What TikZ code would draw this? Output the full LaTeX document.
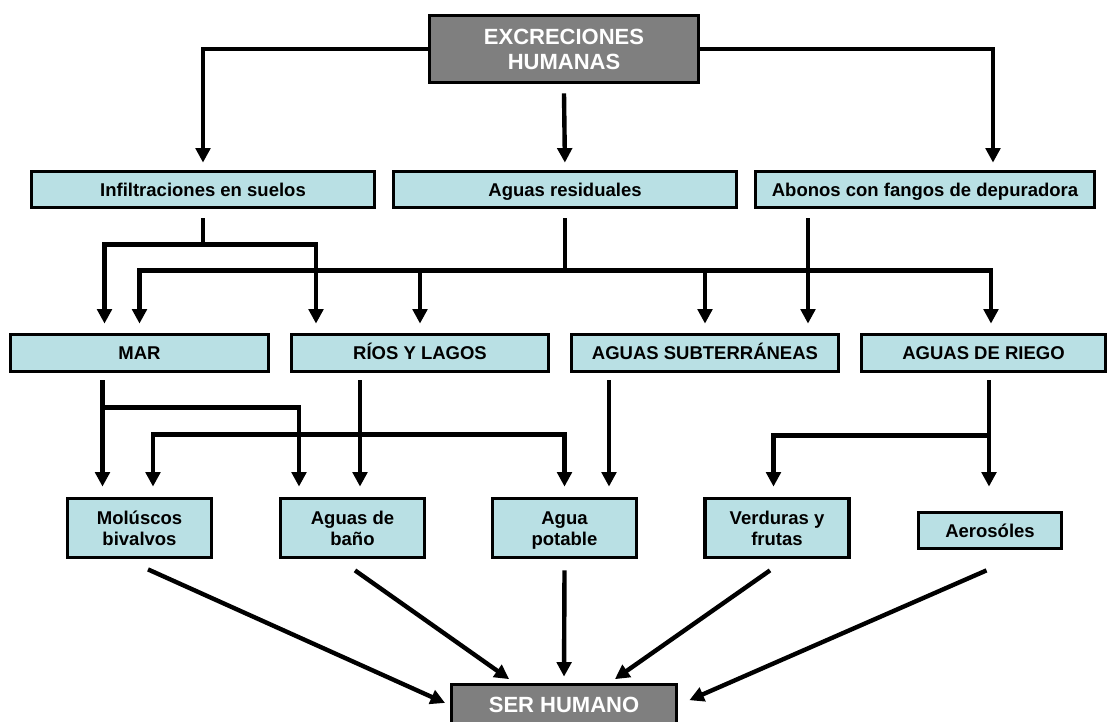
\documentclass[tikz,border=0pt]{standalone}
\usepackage{fontspec}
\setmainfont{Liberation Sans}
\usetikzlibrary{arrows.meta}
\definecolor{boxfill}{RGB}{185,224,228}
\definecolor{headfill}{RGB}{127,127,127}

\begin{document}
\begin{tikzpicture}[x=1pt,y=-1pt,
  lbox/.style={draw=black, line width=3.8pt, fill=boxfill, inner sep=0pt,
    align=center, font=\bfseries\fontsize{18.5}{21}\selectfont,
    text height=13.2pt, text depth=0pt},
  twoline/.style={text height=34.2pt},
  gbox/.style={draw=black, line width=3.8pt, fill=headfill, text=white, inner sep=0pt,
    align=center, font=\bfseries\fontsize{22}{25}\selectfont,
    text height=15.8pt, text depth=0pt},
  wire/.style={line width=4.4pt, line join=miter},
  arr/.style={wire, -{Triangle[length=14.5pt,width=14.5pt]}},
  hi/.style={arr, shorten >=7pt},
  mid/.style={arr, shorten >=9pt},
  lo/.style={arr, shorten >=10pt},
]
\useasboundingbox (0,0) rectangle (1109,722);

% source
\node[gbox, text height=40.8pt, minimum width=269pt, minimum height=67pt] (exc) at (564,49) {EXCRECIONES\\HUMANAS};

% first level
\node[lbox, minimum width=343pt, minimum height=36pt] (inf) at (203,189.5) {Infiltraciones en suelos};
\node[lbox, minimum width=343pt, minimum height=36pt] (res) at (565,189.5) {Aguas residuales};
\node[lbox, minimum width=339pt, minimum height=36pt] (abo) at (925,189.5) {Abonos con fangos de depuradora};

% water bodies
\node[lbox, minimum width=258pt, minimum height=37pt] (mar) at (139.5,353) {MAR};
\node[lbox, minimum width=257pt, minimum height=37pt] (rios) at (420,353) {RÍOS Y LAGOS};
\node[lbox, minimum width=267pt, minimum height=37pt] (sub) at (705,353) {AGUAS SUBTERRÁNEAS};
\node[lbox, minimum width=244pt, minimum height=37pt] (rie) at (983.5,353) {AGUAS DE RIEGO};

% exposure routes
\node[lbox, twoline, minimum width=144pt, minimum height=59pt] (mol) at (139.5,528) {Molúscos\\bivalvos};
\node[lbox, twoline, minimum width=144pt, minimum height=59pt] (ban) at (352.5,528) {Aguas de\\baño};
\node[lbox, twoline, minimum width=144pt, minimum height=59pt] (pot) at (564.5,528) {Agua\\potable};
\node[lbox, twoline, minimum width=144pt, minimum height=59pt] (ver) at (777,528) {Verduras y\\frutas};
\node[lbox, minimum width=143pt, minimum height=36pt] (aer) at (990,530.5) {Aerosóles};

% receiver
\node[gbox, minimum width=225pt, minimum height=41pt] (ser) at (564,705) {SER HUMANO};

% from the source
\draw[hi] (exc.west) -| (inf.north);
\draw[hi] ([yshift=-9pt]exc.south) -- (res.north);
\draw[hi] (exc.east) -| ([xshift=68pt]abo.north);

% from the first level
\path ([yshift=-9pt]inf.south) coordinate (infs) ++(0,26) coordinate (infj);
\draw[wire] (infs) -- (infj);
\draw[mid] (infj) -| ([xshift=-35pt]mar.north);
\draw[mid] (infj) -| ([xshift=-104pt]rios.north);

\path ([yshift=-9pt]res.south) coordinate (ress) ++(0,52) coordinate (resj);
\draw[wire] (ress) -- (resj);
\draw[mid] (resj) -| (mar.north);
\draw[mid] (resj) -| (rios.north);
\draw[mid] (resj) -| (sub.north);
\draw[mid] (resj) -| ([xshift=7.5pt]rie.north);

\path ([xshift=-117pt,yshift=-9pt]abo.south) coordinate (abos);
\draw[mid] (abos) -- (abos |- sub.north);

% from the water bodies
\path ([xshift=-37pt,yshift=-7pt]mar.south) coordinate (mars) ++(0,27) coordinate (marj);
\draw[lo] (mars) -- (mars |- mol.north);
\draw[lo] (marj) -| ([xshift=-53.5pt]ban.north);

\path ([xshift=-60pt,yshift=-7pt]rios.south) coordinate (rioss) ++(0,54) coordinate (riosj);
\draw[lo] (rioss) -- (rioss |- ban.north);
\draw[lo] (riosj) -| ([xshift=13.5pt]mol.north);
\draw[lo] (riosj) -| (pot.north);

\path ([xshift=-96pt,yshift=-7pt]sub.south) coordinate (subs);
\draw[lo] (subs) -- (subs |- pot.north);

\path ([xshift=5.5pt,yshift=-7pt]rie.south) coordinate (ries) ++(0,55) coordinate (riej);
\draw[lo] (ries) -- (ries |- ver.north);
\draw[lo] (riej) -| ([xshift=-3.5pt]ver.north);

% into the receiver
\draw[arr, shorten >=5pt] ([xshift=8.5pt,yshift=-10pt]mol.south) -- (ser.west);
\draw[arr, shorten >=6pt] ([xshift=2.5pt,yshift=-11pt]ban.south) -- ([xshift=-50pt]ser.north);
\draw[arr, shorten >=6pt] ([yshift=-11pt]pot.south) -- (ser.north);
\draw[arr, shorten >=6pt] ([xshift=-7pt,yshift=-11pt]ver.south) -- ([xshift=46pt]ser.north);
\draw[arr, shorten >=12pt] ([xshift=-3.5pt,yshift=-20pt]aer.south) -- (ser.east);
\end{tikzpicture}
\end{document}
